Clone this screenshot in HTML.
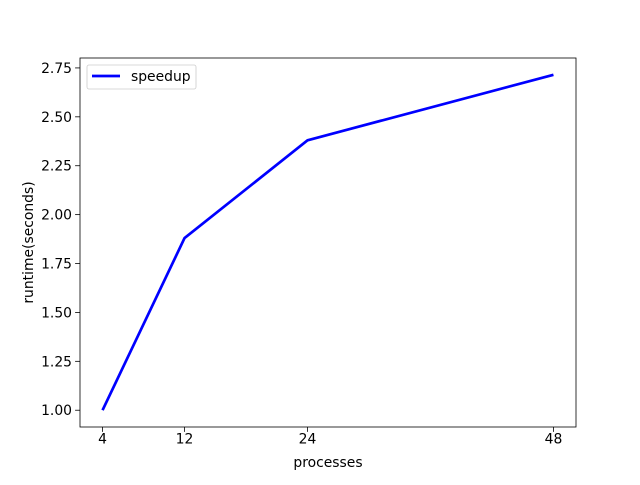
<!DOCTYPE html>
<html><head><meta charset="utf-8"><style>
body{margin:0;background:#fff;}
svg{font-family:"DejaVu Sans","Liberation Sans",sans-serif;}
</style></head><body>
<svg id="chart" width="640" height="480" xmlns="http://www.w3.org/2000/svg">
<rect width="640" height="480" fill="#fff"/>
<g id="plot"></g>
</svg>
<script>
const categories = [4, 12, 24, 48];
const speedupValues = [1.0, 1.88, 2.38, 2.715];
const xTickLabels = [4, 12, 24, 48];
const yTickLabels = [1.00, 1.25, 1.50, 1.75, 2.00, 2.25, 2.50, 2.75];

const L=80,R=576,T=58,B=427,FS=13.9;
const xmin=Math.min(...categories), xmax=Math.max(...categories);
const ymin=Math.min(...speedupValues), ymax=Math.max(...speedupValues);
const xm=(xmax-xmin)*0.05, ym=(ymax-ymin)*0.05;
const xs=v=>L+(v-(xmin-xm))/((xmax+xm)-(xmin-xm))*(R-L);
const ys=v=>B-(v-(ymin-ym))/((ymax+ym)-(ymin-ym))*(B-T);
const NS="http://www.w3.org/2000/svg";
const g=document.getElementById('plot');
function mk(tag,attrs,parent){const e=document.createElementNS(NS,tag);for(const k in attrs)e.setAttribute(k,attrs[k]);(parent||g).appendChild(e);return e;}

const line=mk('polyline',{points:categories.map((c,i)=>xs(c)+','+ys(speedupValues[i])).join(' '),fill:'none',stroke:'#0000ff','stroke-width':2.7,'stroke-linejoin':'round'});



const frame=mk('rect',{x:L,y:T,width:R-L,height:B-T,fill:'none',stroke:'#000','stroke-width':0.8});



xTickLabels.forEach(v=>{
  const x=xs(v);
  mk('line',{x1:x,x2:x,y1:B,y2:B+4.9,stroke:'#000','stroke-width':0.8});
  const t=mk('text',{x:x,y:B+16.5,'text-anchor':'middle','font-size':FS});
  t.textContent=v;
  
  
});
yTickLabels.forEach(v=>{
  const y=ys(v);
  mk('line',{x1:L-4.9,x2:L,y1:y,y2:y,stroke:'#000','stroke-width':0.8});
  const t=mk('text',{x:L-8,y:y+5,'text-anchor':'end','font-size':FS});
  t.textContent=v.toFixed(2);
  
  
});
const xt=mk('text',{x:(L+R)/2,y:467,'text-anchor':'middle','font-size':FS});
xt.textContent='processes';


const yt=mk('text',{x:0,y:0,'text-anchor':'middle','font-size':FS,transform:`translate(33,${(T+B)/2}) rotate(-90)`});
yt.textContent='runtime(seconds)';



const lg=mk('g',{});


mk('rect',{x:87,y:65,width:109,height:24,rx:2,fill:'#fff',stroke:'#ccc','stroke-width':0.8},lg);
mk('line',{x1:92,x2:120,y1:76,y2:76,stroke:'#0000ff','stroke-width':2.7},lg);
const lt=mk('text',{x:131,y:81,'font-size':FS},lg);
lt.textContent='speedup';


</script>
</body></html>
